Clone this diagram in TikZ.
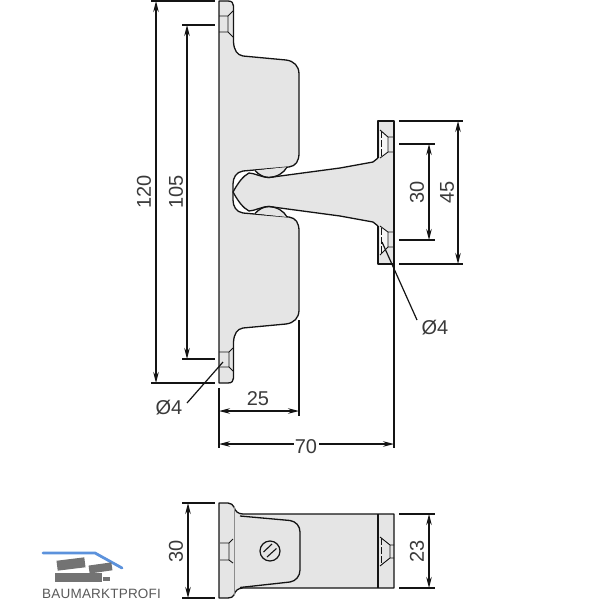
\documentclass[tikz,border=0pt]{standalone}
\usepackage{fontspec}
\setmainfont{Liberation Sans}
\newfontfamily\logofont[LetterSpace=1.5]{Liberation Sans}
\usetikzlibrary{arrows.meta}
\colorlet{partfill}{black!10}
\colorlet{holefill}{black!4}
\definecolor{inkcol}{HTML}{141414}
\definecolor{labelcol}{HTML}{3A3A3A}
\definecolor{logoblue}{HTML}{5C92DC}
\tikzset{
  part/.style={draw=inkcol,line width=1.3pt,fill=partfill,line join=round},
  edge/.style={draw=inkcol,line width=1.3pt,line join=round},
  thin edge/.style={draw=inkcol,line width=0.9pt},
  faint edge/.style={draw=black!45,line width=0.7pt},
  ext/.style={draw=inkcol,line width=1.2pt},
  dim/.style={draw=inkcol,line width=1.2pt,{Stealth[length=11pt,width=5.5pt]}-{Stealth[length=11pt,width=5.5pt]}},
  dimone/.style={draw=inkcol,line width=1.2pt,{Stealth[length=11pt,width=5.5pt]}-},
  lab/.style={text=labelcol,font=\fontsize{20}{22}\selectfont,inner sep=0pt},
  vlab/.style={lab,rotate=90},
}
\begin{document}
\begin{tikzpicture}[x=1pt,y=-1pt]
\useasboundingbox (0,0) rectangle (600,600);
% ---- top view: stem and right plate
\path[fill=partfill] (378,121) rectangle (394,264);
\path[fill=holefill] (380,130) -- (388,137) -- (388,152) -- (380,158) -- cycle;
\path[fill=holefill] (380,226) -- (388,232) -- (388,247) -- (380,255) -- cycle;
\path[fill=partfill] (233,192) .. controls (238,183) and (243,176) .. (249,173) .. controls (254,173) and (262,177.5) .. (269,177.5) -- (340,168) -- (373,162) -- (378,158) -- (378,226) -- (373,222) -- (340,216) -- (269,206.5) .. controls (262,206.5) and (254,211) .. (249,211) .. controls (243,208) and (238,201) .. (233,192) -- cycle;
% body
\path[part] (219,1) -- (228,1) .. controls (232,1) and (233.5,3) .. (233.5,6)
  -- (233.5,42) .. controls (234,50) and (237,55) .. (243,56)
  -- (286,60) .. controls (294,61) and (299,66) .. (299,74)
  -- (299,153) .. controls (299,161) and (296,166) .. (289,167)
  -- (243,171) .. controls (236,172) and (233,178) .. (233,184)
  -- (233,200) .. controls (233,206) and (236,212) .. (243,213)
  -- (289,217) .. controls (296,218) and (299,223) .. (299,231)
  -- (299,310) .. controls (299,318) and (294,323) .. (286,324)
  -- (243,328) .. controls (237,329) and (234,334) .. (233.5,342)
  -- (233.5,378) .. controls (233.5,381) and (232,383) .. (228,383)
  -- (219,383) -- cycle;
% lenses at the joint
\path[part] (255,170.5) .. controls (259,175) and (264,177.5) .. (269,177.5) .. controls (277,177) and (284,173) .. (287,167);
\path[part] (255,213.5) .. controls (259,209) and (264,206.5) .. (269,206.5) .. controls (277,207) and (284,211) .. (287,217);
% stem edges
\draw[edge] (233,192) .. controls (238,183) and (243,176) .. (249,173) .. controls (254,173) and (262,177.5) .. (269,177.5) -- (340,168) -- (373,162) -- (378,158);
\draw[edge] (233,192) .. controls (238,201) and (243,208) .. (249,211) .. controls (254,211) and (262,206.5) .. (269,206.5) -- (340,216) -- (373,222) -- (378,226);
% right plate
\draw[edge] (378,158) -- (378,121) -- (394,121) -- (394,264) -- (378,264) -- (378,226);
% holes of the body
\draw[thin edge] (219,16) -- (228,16) -- (233,11) (219,32) -- (228,32) -- (233,37) (228,16) -- (228,32);
\draw[thin edge] (219,352) -- (229,352) -- (233,348) (219,367) -- (229,367) -- (233,371) (229,352) -- (229,367);
% holes of the right plate
\draw[thin edge] (380,130) -- (388,137) -- (394,137) (380,158) -- (388,152) -- (394,152) (388,137) -- (388,152);
\draw[thin edge] (380,226) -- (388,232) -- (394,232) (380,255) -- (388,247) -- (394,247) (388,232) -- (388,247);
\draw[thin edge,dash pattern=on 7pt off 2pt] (381,131) -- (381,156);
\draw[thin edge,dash pattern=on 7pt off 2pt] (381,228) -- (381,254);
% ---- bottom view
\path[part] (219,503) -- (228,503) .. controls (231,503) and (233,505) .. (234,507) .. controls (235,511) and (238,514) .. (243,514)
  -- (394,514) -- (394,588) -- (243,588) .. controls (238,588) and (235,591) .. (234,595) .. controls (233,597) and (231,598) .. (228,598) -- (219,598) -- cycle;
\draw[faint edge] (234,507) -- (234,595);
\draw[edge] (378,514) -- (378,588);
\draw[edge] (240,516) -- (290,520.5) .. controls (296,521.5) and (300,526) .. (300,532) -- (300,570) .. controls (300,576) and (296,581) .. (290,582) -- (240,587.5);
\draw[thin edge] (220,543) -- (229,543) -- (233,539) (220,560) -- (229,560) -- (233,563) (229,543) -- (229,560);
\draw[thin edge] (380,537) -- (390,545) -- (394,545) (380,566) -- (390,558) -- (394,558) (390,545) -- (390,558);
\draw[thin edge,dash pattern=on 7pt off 2pt] (381,538) -- (381,565);
\node[circle,draw=inkcol,line width=1.2pt,minimum size=20pt,inner sep=0pt] (screw) at (270,551) {};
\draw[edge,line width=1.1pt] (263.5,552) -- (272,544) (267,557) -- (276.5,548.5);
% ---- dimensions: extension lines
\draw[ext] (151,1) -- (215,1) (151,383) -- (215,383) (182,25) -- (215,25) (182,359) -- (215,359);
\draw[ext] (399,121) -- (463,121) (399,264) -- (463,264) (399,144) -- (435,144) (399,240) -- (435,240);
\draw[ext] (394,264) -- (394,448) (219,388) -- (219,448) (299,320) -- (299,416);
\draw[ext] (182,503) -- (215,503) (182,598) -- (215,598) (399,514) -- (435,514) (399,588) -- (435,588);
\draw[dim] (156,1) -- (156,383);
\draw[dim] (187,25) -- (187,359);
\draw[dim] (429,144) -- (429,240);
\draw[dim] (458,121) -- (458,264);
\draw[dim] (219,411) -- (299,411);
\draw[dimone] (219,444) -- (294,444);
\draw[dimone] (394,444) -- (319,444);
\draw[dim] (188,503) -- (188,598);
\draw[dim] (429,514) -- (429,588);
\node[vlab] (d120) at (144,192) {120};
\node[vlab] (d105) at (176,192) {105};
\node[vlab] (d30) at (417,192) {30};
\node[vlab] (d45) at (447,192) {45};
\node[lab] (d25) at (258,399) {25};
\node[lab] (d70) at (306,447) {70};
\node[vlab] (d30b) at (176,551) {30};
\node[vlab] (d23) at (417,551) {23};
\node[lab] (phil) at (169,408) {Ø4};
\node[lab] (phir) at (435,328) {Ø4};
\coordinate (holel) at (223,362);
\coordinate (holer) at (382,242);
\draw[ext] (holel) -- (187,403);
\draw[ext] (holer) -- (417,320);
% ---- logo
\draw[line width=2.8pt,draw=logoblue,line cap=round] (43,553) -- (95,553) -- (122,568);
\fill[black!55,rotate around={7:(71,564)}] (57,559) rectangle (85,569);
\fill[black!55,rotate around={8:(100,568)}] (89,564) rectangle (112,572);
\fill[black!55] (55,573) rectangle (102,581.5);
\fill[black!55] (103,577) rectangle (110,581);
\node[text=black!65,font=\logofont\fontsize{13.5}{14}\selectfont,inner sep=0pt,anchor=base west] (logo) at (42,598) {BAUMARKTPROFI};
\end{tikzpicture}
\end{document}
